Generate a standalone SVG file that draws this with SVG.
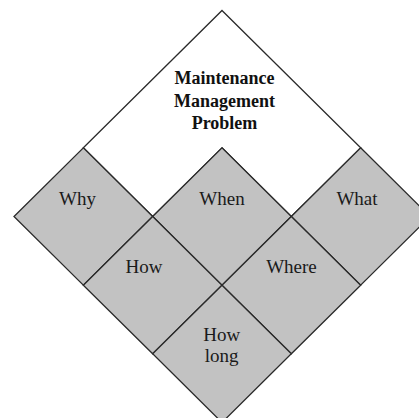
<svg xmlns="http://www.w3.org/2000/svg" width="419" height="418" viewBox="0 0 419 418">
<style>
.cell{fill:#c2c2c2;stroke:#2a2a2a;stroke-width:1.3;stroke-linejoin:miter}
.top{fill:#ffffff;stroke:#2a2a2a;stroke-width:1.3}
.lbl{font-family:"Liberation Serif","Times New Roman",serif;font-size:19px;fill:#1a1a1a;text-anchor:middle}
.ttl{font-family:"Liberation Serif","Times New Roman",serif;font-size:18px;font-weight:bold;fill:#111;text-anchor:middle}
</style>
<rect width="419" height="418" fill="#ffffff"/>
<g id="problem">
<polygon class="top" points="222,10.5 360.67,147.8 291.33,216.5 222,147.8 152.67,216.5 83.33,147.8"/>
<text class="ttl" x="224.5" y="84">Maintenance</text>
<text class="ttl" x="224.5" y="107">Management</text>
<text class="ttl" x="224.5" y="129">Problem</text>
</g>
<g id="why">
<polygon class="cell" points="83.33,147.8 152.67,216.5 83.33,285.2 14,216.5"/>
<text class="lbl" x="77.5" y="205">Why</text>
</g>
<g id="when">
<polygon class="cell" points="222,147.8 291.33,216.5 222,285.2 152.67,216.5"/>
<text class="lbl" x="222" y="204.5">When</text>
</g>
<g id="what">
<polygon class="cell" points="360.67,147.8 430,216.5 360.67,285.2 291.33,216.5"/>
<text class="lbl" x="357" y="204.5">What</text>
</g>
<g id="how">
<polygon class="cell" points="152.67,216.5 222,285.2 152.67,353.8 83.33,285.2"/>
<text class="lbl" x="144" y="273">How</text>
</g>
<g id="where">
<polygon class="cell" points="291.33,216.5 360.67,285.2 291.33,353.8 222,285.2"/>
<text class="lbl" x="291.5" y="273">Where</text>
</g>
<g id="howlong">
<polygon class="cell" points="222,285.2 291.33,353.8 222,422.5 152.67,353.8"/>
<text class="lbl" x="221.7" y="340.5">How</text>
<text class="lbl" x="221.7" y="361.5">long</text>
</g>
<g id="connectors"></g>
</svg>
